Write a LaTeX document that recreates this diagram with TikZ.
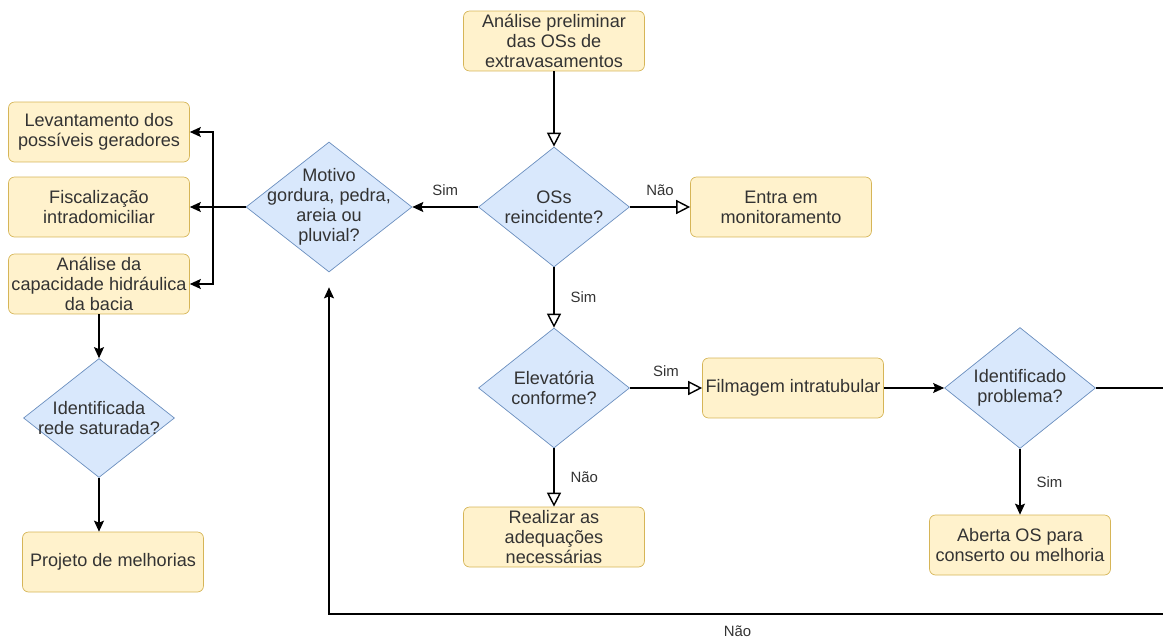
\documentclass[tikz,border=0pt]{standalone}
\usepackage{fontspec}
\setmainfont{Liberation Sans}
\usetikzlibrary{shapes.geometric}
\usetikzlibrary{arrows.meta}
\definecolor{BoxFill}{rgb}{1.0,0.95,0.8}
\definecolor{BoxLine}{rgb}{0.84,0.71,0.34}
\definecolor{DecFill}{rgb}{0.85,0.91,0.99}
\definecolor{DecLine}{rgb}{0.42,0.56,0.75}
\definecolor{MyDarkGrey}{rgb}{0.2,0.2,0.2}

\begin{document}
\begin{tikzpicture}[x=0.02cm, y=-0.02cm,
    every node/.style={text=MyDarkGrey, font=\fontsize{10.3}{11.5}\selectfont},
    box/.style={draw=BoxLine, fill=BoxFill, rounded corners=0.12cm, align=center, minimum width=3.62cm, minimum height=1.2cm, inner sep=0pt},
    decision/.style={diamond, draw=DecLine, fill=DecFill, inner sep=0pt, minimum width=3.02cm, minimum height=2.4cm},
    txt/.style={align=center},
    tag/.style={font=\fontsize{8.5}{10}\selectfont},
    flow/.style={draw=black, line width=0.8pt},
    hollowarrow/.style={flow, -{Triangle[open, length=0.28cm, width=0.28cm]}},
    fullarrow/.style={flow, -{Stealth[length=0.22cm, width=0.2cm, inset=0.04cm]}}]
        \useasboundingbox (0,0) rectangle (1163,639);
        \clip (0,0) rectangle (1163,639);
        \node[box] (prelim) at (554,41) {Análise preliminar\\das OSs de\\extravasamentos};
        \node[decision, label={[txt]center:{OSs\\reincidente?}}] (reinc) at (554,207) {};
        \node[box] (monit) at (781,207) {Entra em\\monitoramento};
        \node[decision, minimum width=3.32cm, minimum height=2.6cm, label={[txt]center:{Motivo\\gordura, pedra,\\areia ou\\pluvial?}}] (motivo) at (329,207) {};
        \node[box] (levant) at (99,132) {Levantamento dos\\possíveis geradores};
        \node[box] (fisc) at (99,207) {Fiscalização\\intradomiciliar};
        \node[box] (capac) at (99,284) {Análise da\\capacidade hidráulica\\da bacia};
        \node[decision, minimum height=2.38cm, label={[txt]center:{Identificada\\rede saturada?}}] (satur) at (99,418) {};
        \node[box] (projeto) at (113,562) {Projeto de melhorias};
        \node[decision, label={[txt]center:{Elevatória\\conforme?}}] (elev) at (554,388) {};
        \node[box] (film) at (793,388) {Filmagem intratubular};
        \node[box] (realiz) at (554,537) {Realizar as\\adequações\\necessárias};
        \node[decision, minimum height=2.42cm, label={[txt]center:{Identificado\\problema?}}] (ident) at (1020,388) {};
        \node[box] (aberta) at (1020,545) {Aberta OS para\\conserto ou melhoria};
        \coordinate (split) at (213,207);
        \coordinate (c1) at (1180,388);
        \coordinate (c2) at (1180,614);
        \coordinate (c3) at (motivo |- c2);
        \draw[hollowarrow] (prelim) -- (reinc);
        \draw[fullarrow] (reinc) -- node[tag, above=0.1cm] {Sim} (motivo);
        \draw[hollowarrow] (reinc) -- node[tag, above=0.1cm] {Não} (monit);
        \draw[hollowarrow] (reinc) -- node[tag, right=0.2cm] {Sim} (elev);
        \draw[hollowarrow] (elev) -- node[tag, above=0.1cm] {Sim} (film);
        \draw[hollowarrow] (elev) -- node[tag, right=0.2cm] {Não} (realiz);
        \draw[fullarrow] (film) -- (ident);
        \draw[fullarrow] (ident) -- node[tag, right=0.2cm] {Sim} (aberta);
        \draw[fullarrow] (motivo) -- (fisc);
        \draw[fullarrow] (split) |- (levant);
        \draw[fullarrow] (split) |- (capac);
        \draw[fullarrow] (capac) -- (satur);
        \draw[fullarrow] (satur) -- (satur |- projeto.north);
        \draw[fullarrow, shorten >=0.3cm] (ident) -- (c1) -- (c2) -- node[tag, pos=0.52, below=0.1cm] {Não} (c3) -- (motivo);
\end{tikzpicture}
\end{document}
